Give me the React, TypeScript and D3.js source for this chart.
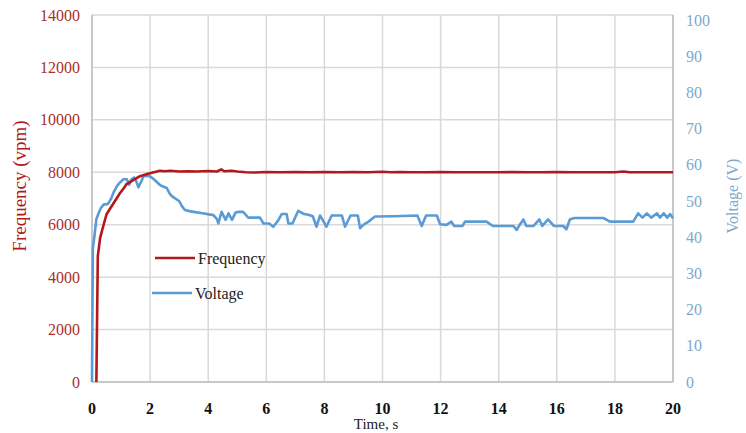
import React from "react";
import * as d3 from "d3";

const freqTimes = [0.15,0.2,0.28,0.4,0.5,0.73,0.96,1.1,1.19,1.42,1.65,1.85,2.0,2.2,2.34,2.5,2.7,3.0,3.3,3.6,4.0,4.3,4.45,4.55,4.8,5.0,5.3,5.6,6.0,6.5,7.0,7.5,8.0,8.5,9.0,9.5,10.0,10.3,10.6,11.0,11.5,12.0,12.5,13.0,13.5,14.0,14.5,15.0,15.5,16.0,16.5,17.0,17.5,18.0,18.3,18.5,19.0,19.5,20.0];
const freqValues = [0,4800,5500,6000,6400,6800,7200,7400,7550,7700,7850,7920,7960,8020,8060,8040,8060,8030,8040,8030,8050,8030,8110,8040,8060,8030,8000,7990,8010,8000,8010,8000,8010,8000,8010,8000,8020,8000,8010,8000,8000,8010,8000,8000,8000,8000,8010,8000,8000,8010,8000,8000,8000,8000,8030,8000,8000,8000,8000];

const voltTimes = [0,0.03,0.08,0.15,0.22,0.3,0.4,0.55,0.65,0.75,0.85,0.95,1.08,1.2,1.28,1.36,1.45,1.52,1.6,1.7,1.77,1.9,2.0,2.1,2.22,2.34,2.45,2.57,2.68,2.74,2.9,3.0,3.1,3.2,3.35,3.5,3.8,4.18,4.3,4.35,4.46,4.6,4.7,4.82,4.94,5.05,5.2,5.38,5.78,5.9,6.1,6.24,6.4,6.53,6.7,6.76,6.9,7.1,7.3,7.45,7.6,7.73,7.85,8.07,8.25,8.6,8.71,8.9,9.15,9.23,9.35,9.52,9.74,10.4,11.2,11.35,11.5,11.87,11.98,12.2,12.37,12.47,12.75,12.84,13.58,13.8,14.5,14.62,14.72,14.85,14.95,15.2,15.4,15.5,15.7,15.9,16.22,16.33,16.45,16.6,17.6,17.83,18.63,18.8,18.95,19.1,19.25,19.45,19.55,19.68,19.8,19.9,20];
const voltValues = [0,37,40,45,46.5,48,49,49.2,50.5,52.5,54,55,56,56,54.5,56,56.5,55.5,53.8,55.5,56.8,57,56.8,56.2,55.3,54.4,54,53.6,52,51.4,50.5,50,48.5,47.5,47.2,47,46.6,46.1,45,43.8,47,44.8,46.6,44.8,46.8,47,47,45.4,45.4,43.8,43.8,42.9,44.5,46.4,46.4,43.8,43.8,47.3,46.4,46.2,45.8,42.9,46,42.9,46,46,42.9,46,46,42.5,43.5,44.3,45.7,45.8,46,43.1,46,46,43.6,43.4,44.3,43.1,43.1,44.3,44.3,43.1,43.1,42,43.4,44.9,43.1,43.1,44.9,43.1,44.9,43.1,43.1,42.2,44.9,45.3,45.3,44.3,44.3,46.6,45.4,46.6,45.4,46.6,45.4,46.6,45.4,46.4,45.2];

const xTicks = [0,2,4,6,8,10,12,14,16,18,20];
const freqTicks = [0,2000,4000,6000,8000,10000,12000,14000];
const voltTicks = [0,10,20,30,40,50,60,70,80,90,100];

const RED = "#B2181B";
const BLUE = "#5B9BD5";
const RED_TXT = "#A8302E";
const BLUE_TXT = "#7EA8CC";
const SERIF = "'Liberation Serif', 'Times New Roman', serif";

export default function App() {
  const left = 92, right = 673, top = 15, bottom = 382;
  const x = d3.scaleLinear().domain([0, 20]).range([left, right]);
  const yF = d3.scaleLinear().domain([0, 14000]).range([bottom, top]);
  const yV = d3.scaleLinear().domain([0, 100]).range([bottom, 20]);

  const freqData = freqTimes.map((t, i) => [t, freqValues[i]] as [number, number]);
  const voltData = voltTimes.map((t, i) => [t, voltValues[i]] as [number, number]);

  const fLine = d3.line<[number, number]>().x(d => x(d[0])).y(d => yF(d[1]));
  const vLine = d3.line<[number, number]>().x(d => x(d[0])).y(d => yV(d[1]));

  return (
    <svg width={746} height={433} style={{ position: "absolute", left: 0, top: 0, background: "#fff" }}>
      {freqTicks.map(t => (
        <line key={"h" + t} x1={left} x2={right} y1={yF(t)} y2={yF(t)} stroke="#d9d9d9" strokeWidth={1.5} />
      ))}
      {xTicks.map(t => (
        <line key={"v" + t} x1={x(t)} x2={x(t)} y1={top} y2={bottom} stroke="#d9d9d9" strokeWidth={1.5} />
      ))}
      <line x1={left} x2={left} y1={top} y2={bottom} stroke="#bfbfbf" strokeWidth={1.5} />
      <line x1={right} x2={right} y1={top} y2={bottom} stroke="#bfbfbf" strokeWidth={1.5} />
      <line x1={left} x2={right} y1={bottom} y2={bottom} stroke="#bfbfbf" strokeWidth={1.5} />

      <path d={vLine(voltData) || ""} fill="none" stroke={BLUE} strokeWidth={2.6} strokeLinejoin="round" />
      <path d={fLine(freqData) || ""} fill="none" stroke={RED} strokeWidth={2.6} strokeLinejoin="round" />

      {freqTicks.map(t => (
        <text key={"fl" + t} x={80} y={yF(t)} dy="0.35em" textAnchor="end" fill={RED_TXT} fontFamily={SERIF} fontSize={16}>{t}</text>
      ))}
      {voltTicks.map(t => (
        <text key={"vl" + t} x={686} y={yV(t)} dy="0.35em" textAnchor="start" fill={BLUE_TXT} fontFamily={SERIF} fontSize={16}>{t}</text>
      ))}
      {xTicks.map(t => (
        <text key={"xl" + t} x={x(t)} y={408} dy="0.35em" textAnchor="middle" fill="#111" fontFamily={SERIF} fontWeight="bold" fontSize={16}>{t}</text>
      ))}
      <text x={376} y={424} dy="0.35em" textAnchor="middle" fill="#222" fontFamily={SERIF} fontSize={15}>Time, s</text>
      <text transform="translate(19,186) rotate(-90)" textAnchor="middle" dy="0.35em" fill={RED} fontFamily={SERIF} fontSize={19}>Frequency (vpm)</text>
      <text transform="translate(732,196) rotate(-90)" textAnchor="middle" dy="0.35em" fill={BLUE_TXT} fontFamily={SERIF} fontSize={16}>Voltage (V)</text>

      <line x1={155} x2={195} y1={258} y2={258} stroke={RED} strokeWidth={2.6} />
      <text x={198} y={258} dy="0.35em" fill="#222" fontFamily={SERIF} fontSize={16}>Frequency</text>
      <line x1={152} x2={192} y1={293} y2={293} stroke={BLUE} strokeWidth={2.6} />
      <text x={195} y={293} dy="0.35em" fill="#222" fontFamily={SERIF} fontSize={16}>Voltage</text>
    </svg>
  );
}
